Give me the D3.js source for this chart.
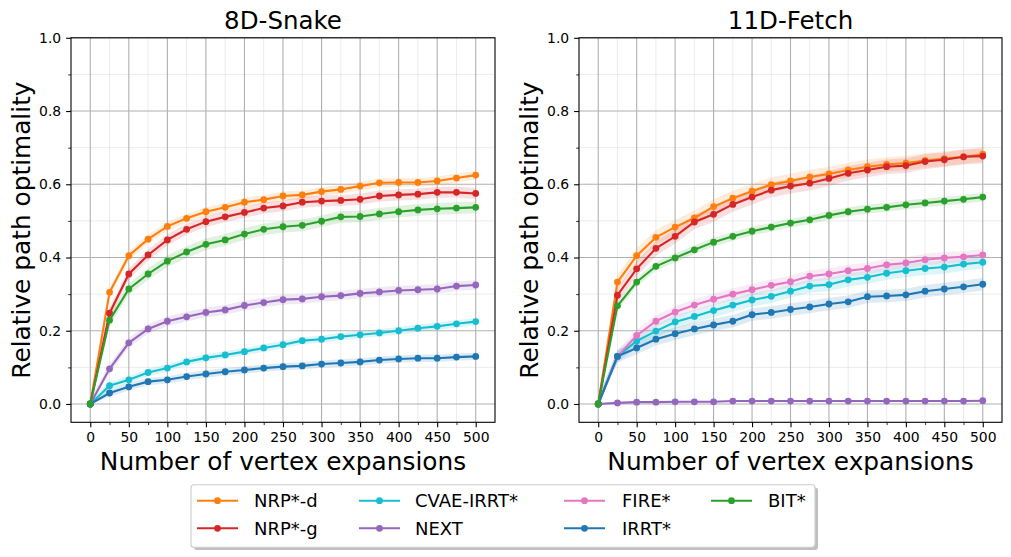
<!DOCTYPE html>
<html>
<head>
<meta charset="utf-8">
<script src="https://cdn.jsdelivr.net/npm/d3@7/dist/d3.min.js"></script>
<style>
  html, body { margin: 0; padding: 0; background: #fff; }
  svg { display: block; font-family: "DejaVu Sans", sans-serif; }
</style>
</head>
<body>
<div id="chart"></div>
<script>
// x positions (vertex expansions)
const expansions = [0, 25, 50, 75, 100, 125, 150, 175, 200, 225, 250, 275, 300, 325, 350, 375, 400, 425, 450, 475, 500];

// 8D-Snake
const snakeNrpD  = [0, 0.305, 0.405, 0.450, 0.485, 0.507, 0.525, 0.537, 0.551, 0.558, 0.568, 0.571, 0.580, 0.586, 0.595, 0.604, 0.605, 0.605, 0.609, 0.617, 0.625];
const snakeNrpG  = [0, 0.248, 0.355, 0.407, 0.448, 0.477, 0.498, 0.511, 0.523, 0.535, 0.541, 0.551, 0.554, 0.556, 0.559, 0.568, 0.571, 0.573, 0.578, 0.578, 0.575];
const snakeCvae  = [0, 0.050, 0.066, 0.086, 0.098, 0.115, 0.126, 0.134, 0.143, 0.153, 0.162, 0.173, 0.177, 0.184, 0.189, 0.194, 0.200, 0.207, 0.212, 0.219, 0.225];
const snakeNext  = [0, 0.096, 0.167, 0.205, 0.226, 0.238, 0.250, 0.257, 0.269, 0.277, 0.285, 0.287, 0.293, 0.296, 0.302, 0.306, 0.310, 0.312, 0.314, 0.322, 0.325];
const snakeIrrt  = [0, 0.030, 0.047, 0.061, 0.066, 0.075, 0.082, 0.088, 0.093, 0.098, 0.102, 0.104, 0.109, 0.112, 0.115, 0.120, 0.123, 0.125, 0.125, 0.128, 0.130];
const snakeBit   = [0, 0.229, 0.314, 0.355, 0.390, 0.415, 0.436, 0.448, 0.464, 0.477, 0.484, 0.488, 0.499, 0.511, 0.512, 0.519, 0.525, 0.530, 0.533, 0.535, 0.537];

// 11D-Fetch
const fetchNrpD  = [0, 0.333, 0.405, 0.455, 0.483, 0.508, 0.539, 0.562, 0.581, 0.599, 0.609, 0.620, 0.628, 0.639, 0.648, 0.654, 0.658, 0.665, 0.670, 0.675, 0.682];
const fetchNrpG  = [0, 0.297, 0.369, 0.425, 0.458, 0.497, 0.518, 0.545, 0.565, 0.584, 0.595, 0.603, 0.616, 0.630, 0.639, 0.648, 0.651, 0.662, 0.667, 0.675, 0.677];
const fetchCvae  = [0, 0.130, 0.172, 0.199, 0.224, 0.239, 0.255, 0.270, 0.284, 0.294, 0.308, 0.322, 0.326, 0.339, 0.346, 0.357, 0.364, 0.370, 0.374, 0.382, 0.387];
const fetchNext  = [0, 0.003, 0.005, 0.005, 0.006, 0.006, 0.006, 0.008, 0.008, 0.008, 0.008, 0.008, 0.008, 0.008, 0.008, 0.008, 0.008, 0.008, 0.008, 0.008, 0.009];
const fetchFire  = [0, 0.130, 0.187, 0.226, 0.251, 0.270, 0.286, 0.300, 0.312, 0.324, 0.334, 0.349, 0.355, 0.364, 0.370, 0.380, 0.385, 0.394, 0.399, 0.402, 0.407];
const fetchIrrt  = [0, 0.130, 0.153, 0.177, 0.192, 0.205, 0.216, 0.226, 0.244, 0.250, 0.258, 0.265, 0.273, 0.279, 0.293, 0.295, 0.298, 0.308, 0.314, 0.320, 0.327];
const fetchBit   = [0, 0.268, 0.333, 0.376, 0.399, 0.421, 0.442, 0.458, 0.472, 0.483, 0.494, 0.503, 0.515, 0.525, 0.532, 0.537, 0.544, 0.549, 0.554, 0.559, 0.565];

// shaded spread (half width) per series
const snakeSpread = { "NRP*-d": 0.012, "NRP*-g": 0.015, "CVAE-IRRT*": 0.010, "NEXT": 0.013, "IRRT*": 0.010, "BIT*": 0.016 };
const fetchSpread = { "NRP*-d": 0.020, "NRP*-g": 0.020, "CVAE-IRRT*": 0.018, "NEXT": 0.002, "FIRE*": 0.016, "IRRT*": 0.017, "BIT*": 0.012 };

// tick labels
const xTicks = [0, 50, 100, 150, 200, 250, 300, 350, 400, 450, 500];
const xMinorTicks = [25, 75, 125, 175, 225, 275, 325, 375, 425, 475];
const yTicks = [0.0, 0.2, 0.4, 0.6, 0.8, 1.0];
const yMinorTicks = [0.1, 0.3, 0.5, 0.7, 0.9];

const methods = ["NRP*-d", "NRP*-g", "CVAE-IRRT*", "NEXT", "FIRE*", "IRRT*", "BIT*"];
const colors = ["#ff7f0e", "#d62728", "#17becf", "#9467bd", "#e377c2", "#1f77b4", "#2ca02c"];

const panels = [
  { title: "8D-Snake", left: 71, right: 495,
    series: { "NRP*-d": snakeNrpD, "NRP*-g": snakeNrpG, "CVAE-IRRT*": snakeCvae, "NEXT": snakeNext, "IRRT*": snakeIrrt, "BIT*": snakeBit },
    spread: snakeSpread },
  { title: "11D-Fetch", left: 579, right: 1002,
    series: { "NRP*-d": fetchNrpD, "NRP*-g": fetchNrpG, "CVAE-IRRT*": fetchCvae, "NEXT": fetchNext, "FIRE*": fetchFire, "IRRT*": fetchIrrt, "BIT*": fetchBit },
    spread: fetchSpread }
];

const width = 1011, height = 557;
const plotTop = 37.8, plotBottom = 422.3;

const color = d3.scaleOrdinal().domain(methods).range(colors);

const svg = d3.select("#chart").append("svg")
  .attr("width", width)
  .attr("height", height);

panels.forEach(p => {
  const x = d3.scaleLinear().domain([-25, 525]).range([p.left, p.right]);
  const y = d3.scaleLinear().domain([-0.05, 1.0]).range([plotBottom, plotTop]);
  const g = svg.append("g");

  // minor grid
  g.append("g").selectAll("line").data(xMinorTicks).join("line")
    .attr("x1", d => x(d)).attr("x2", d => x(d)).attr("y1", plotTop).attr("y2", plotBottom)
    .attr("stroke", "#b0b0b0").attr("stroke-opacity", 0.3).attr("stroke-width", 0.8);
  g.append("g").selectAll("line").data(yMinorTicks).join("line")
    .attr("y1", d => y(d)).attr("y2", d => y(d)).attr("x1", p.left).attr("x2", p.right)
    .attr("stroke", "#b0b0b0").attr("stroke-opacity", 0.3).attr("stroke-width", 0.8);
  // major grid
  g.append("g").selectAll("line").data(xTicks).join("line")
    .attr("x1", d => x(d)).attr("x2", d => x(d)).attr("y1", plotTop).attr("y2", plotBottom)
    .attr("stroke", "#b0b0b0").attr("stroke-width", 1.1);
  g.append("g").selectAll("line").data(yTicks).join("line")
    .attr("y1", d => y(d)).attr("y2", d => y(d)).attr("x1", p.left).attr("x2", p.right)
    .attr("stroke", "#b0b0b0").attr("stroke-width", 1.1);

  // bands
  const names = methods.filter(m => p.series[m]);
  names.forEach(m => {
    const vals = p.series[m];
    const s = p.spread[m];
    const area = d3.area()
      .x((d, i) => x(expansions[i]))
      .y0(d => y(Math.max(0, d - s)))
      .y1(d => y(d + s));
    g.append("path").datum(vals)
      .attr("d", area)
      .attr("fill", color(m))
      .attr("fill-opacity", 0.15);
  });

  // lines + markers
  names.forEach(m => {
    const vals = p.series[m];
    const line = d3.line().x((d, i) => x(expansions[i])).y(d => y(d));
    g.append("path").datum(vals)
      .attr("d", line)
      .attr("fill", "none")
      .attr("stroke", color(m))
      .attr("stroke-width", 2.1);
    g.append("g").selectAll("circle").data(vals).join("circle")
      .attr("cx", (d, i) => x(expansions[i]))
      .attr("cy", d => y(d))
      .attr("r", 3.4)
      .attr("fill", color(m));
  });

  // axes
  const xAxis = d3.axisBottom(x).tickValues(xTicks).tickFormat(d3.format("d")).tickSize(4.9).tickPadding(4.9);
  const yAxis = d3.axisLeft(y).tickValues(yTicks).tickFormat(d3.format(".1f")).tickSize(4.9).tickPadding(4.9);

  const gx = g.append("g").attr("transform", `translate(0,${plotBottom})`).call(xAxis);
  const gy = g.append("g").attr("transform", `translate(${p.left},0)`).call(yAxis);
  [gx, gy].forEach(a => {
    a.select(".domain").remove();
    a.selectAll("line").attr("stroke", "#000").attr("stroke-width", 1.1);
    a.selectAll("text").attr("fill", "#000").style("font-size", "13.9px").style("font-family", "DejaVu Sans");
  });

  const gxm = g.append("g").attr("transform", `translate(0,${plotBottom})`)
    .call(d3.axisBottom(x).tickValues(xMinorTicks).tickFormat("").tickSize(2.8));
  const gym = g.append("g").attr("transform", `translate(${p.left},0)`)
    .call(d3.axisLeft(y).tickValues(yMinorTicks).tickFormat("").tickSize(2.8));
  [gxm, gym].forEach(a => {
    a.select(".domain").remove();
    a.selectAll("line").attr("stroke", "#000").attr("stroke-width", 0.8);
  });

  // frame
  g.append("rect")
    .attr("x", p.left).attr("y", plotTop)
    .attr("width", p.right - p.left).attr("height", plotBottom - plotTop)
    .attr("fill", "none").attr("stroke", "#000").attr("stroke-width", 1.1);

  const cx = (p.left + p.right) / 2;
  g.append("text").attr("x", cx).attr("y", 29)
    .attr("text-anchor", "middle").style("font-size", "24.5px").text(p.title);
  g.append("text").attr("x", cx).attr("y", 470)
    .attr("text-anchor", "middle").style("font-size", "24.8px").text("Number of vertex expansions");
  g.append("text")
    .attr("transform", `translate(${p.left - 41},${(plotTop + plotBottom) / 2}) rotate(-90)`)
    .attr("text-anchor", "middle").style("font-size", "24.8px").text("Relative path optimality");
});

// legend
const legendCols = [
  { line: 197, text: 254 },
  { line: 359, text: 415 },
  { line: 564, text: 622 },
  { line: 711, text: 768 }
];
const legendRows = [500.7, 528.3];
const lg = svg.append("g");
lg.append("rect")
  .attr("x", 194).attr("y", 487.5).attr("width", 624).attr("height", 62.5)
  .attr("rx", 3).attr("fill", "#808080").attr("fill-opacity", 0.5);
lg.append("rect")
  .attr("x", 191).attr("y", 484.7).attr("width", 624).attr("height", 62.5)
  .attr("rx", 3).attr("fill", "#fff").attr("stroke", "#cccccc").attr("stroke-width", 1.1);

methods.forEach((m, i) => {
  const col = legendCols[Math.floor(i / 2)];
  const yy = legendRows[i % 2];
  lg.append("line")
    .attr("x1", col.line).attr("x2", col.line + 41)
    .attr("y1", yy).attr("y2", yy)
    .attr("stroke", color(m)).attr("stroke-width", 2.1);
  lg.append("circle")
    .attr("cx", col.line + 20.5).attr("cy", yy).attr("r", 3.4)
    .attr("fill", color(m));
  lg.append("text")
    .attr("x", col.text).attr("y", yy + 6.5)
    .style("font-size", "18px").text(m);
});
</script>
</body>
</html>
